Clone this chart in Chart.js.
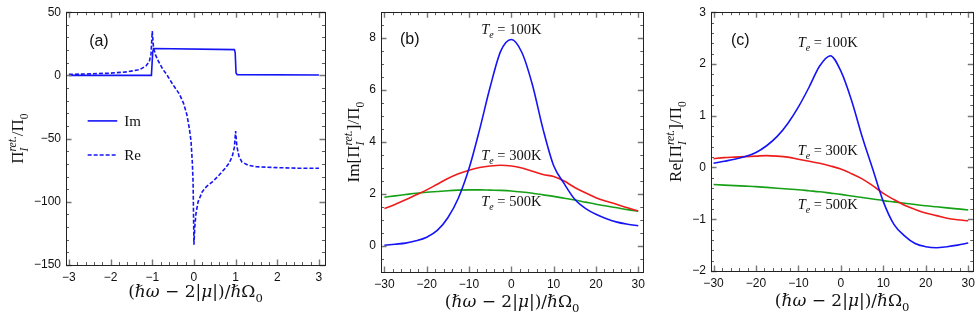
<!DOCTYPE html>
<html>
<head>
<meta charset="utf-8">
<script src="https://cdn.jsdelivr.net/npm/chart.js@4.4.1/dist/chart.umd.min.js"></script>
<style>
    html, body { margin: 0; padding: 0; background: #fff; }
    #wrap { position: relative; width: 980px; height: 317px; overflow: hidden; }
    canvas { position: absolute; top: 0; }
</style>
</head>
<body>
<div id="wrap">
    <canvas id="panelA" width="330" height="317" style="left:0px"></canvas>
    <canvas id="panelB" width="320" height="317" style="left:330px"></canvas>
    <canvas id="panelC" width="325" height="317" style="left:655px"></canvas>
</div>
<script>
// ---- panel (a): Im / Re of the polarization at T = 0
const imX_a = [-3, -1.02, -0.99, -0.97, 0.97, 0.99, 1.01, 1.04, 3];
const imY_a = [0, 0, 18, 21.3, 20.4, 18, 2, 0.6, 0.3];

const reX_a = [-3, -2.5, -2, -1.6, -1.3, -1.15, -1.07, -1.03, -1.0, -0.97, -0.92, -0.85, -0.75, -0.65,
    -0.5, -0.35, -0.25, -0.17, -0.11, -0.07, -0.04, -0.02, 0, 0.02, 0.05, 0.1, 0.2, 0.3, 0.45, 0.6,
    0.75, 0.85, 0.92, 0.97, 1.0, 1.03, 1.08, 1.15, 1.3, 1.5, 2, 2.5, 3];
const reY_a = [0.8, 1.2, 1.8, 2.8, 4.6, 7.5, 11, 17, 35, 22, 16, 11, 5, 0.5,
    -7.5, -14.7, -22, -31, -42, -52, -68, -85, -134, -120, -109, -100, -92, -88, -84, -79,
    -73.5, -69, -64, -57, -44, -56, -64, -68.5, -71, -72.3, -73, -73.4, -73.5];

const xTicksA = [-3, -2, -1, 0, 1, 2, 3];
const yTicksA = [-150, -100, -50, 0, 50];

// ---- panels (b) and (c): finite temperature, three electron temperatures
const xT = [-30, -27.5, -25, -22.5, -20, -17.5, -15, -12.5, -10, -7.5, -5, -2.5, 0,
    2.5, 5, 7.5, 10, 12.5, 15, 17.5, 20, 22.5, 25, 27.5, 30];

const im100 = [0.03, 0.07, 0.11, 0.2, 0.34, 0.6, 1.09, 1.85, 2.98, 4.48, 6.12, 7.5, 7.95,
    7.45, 6.2, 4.5, 3.1, 2.4, 1.8, 1.45, 1.22, 1.05, 0.92, 0.84, 0.78];
const im300 = [1.44, 1.6, 1.78, 1.97, 2.16, 2.38, 2.6, 2.78, 2.92, 3.02, 3.08, 3.11, 3.08,
    3.0, 2.88, 2.75, 2.68, 2.5, 2.25, 2.05, 1.86, 1.72, 1.6, 1.47, 1.35];
const im500 = [1.88, 1.93, 1.98, 2.03, 2.07, 2.1, 2.13, 2.15, 2.16, 2.16, 2.15, 2.14, 2.12,
    2.08, 2.03, 1.97, 1.91, 1.84, 1.77, 1.69, 1.61, 1.54, 1.47, 1.4, 1.34];

const re100 = [0.08, 0.12, 0.16, 0.21, 0.29, 0.42, 0.6, 0.85, 1.17, 1.55, 1.96, 2.16, 1.86,
    1.3, 0.6, -0.03, -0.66, -1.1, -1.32, -1.47, -1.53, -1.55, -1.53, -1.5, -1.46];
const re300 = [0.17, 0.19, 0.2, 0.21, 0.22, 0.23, 0.22, 0.2, 0.16, 0.12, 0.08, 0.03, -0.03,
    -0.12, -0.22, -0.35, -0.5, -0.62, -0.73, -0.81, -0.88, -0.93, -0.98, -1.01, -1.03];
const re500 = [-0.33, -0.34, -0.35, -0.36, -0.37, -0.385, -0.4, -0.415, -0.43, -0.45, -0.47, -0.495, -0.52,
    -0.55, -0.58, -0.61, -0.64, -0.665, -0.69, -0.715, -0.74, -0.76, -0.78, -0.8, -0.82];

const xTicksT = [-30, -20, -10, 0, 10, 20, 30];
const yTicksB = [0, 2, 4, 6, 8];
const yTicksC = [-2, -1, 0, 1, 2, 3];

const BLUE = '#1414f5';
const RED = '#ef1c1c';
const GREEN = '#16a016';
const SERIF = '"Liberation Serif", "DejaVu Serif", serif';
const WIDE_SERIF = '"DejaVu Serif", "Liberation Serif", serif';
const SANS = '"Liberation Sans", Arial, sans-serif';

const pts = (xs, ys) => xs.map((x, i) => ({ x: x, y: ys[i] }));

// text made of runs: [text, flags]  i = italic, b = subscript, p = superscript, s = stacked with next
function drawRich(ctx, runs, cx, cy, size, align, fam) {
    fam = fam || SERIF;
    const fontOf = f => (f.includes('i') ? 'italic ' : '') +
        ((f.includes('b') || f.includes('p')) ? size * 0.68 : size).toFixed(1) + 'px ' + fam;
    let total = 0, held = 0;
    const items = runs.map(([t, f]) => {
        ctx.font = fontOf(f);
        const w = ctx.measureText(t).width;
        const item = { t: t, f: f, x: total };
        if (f.includes('s')) {
            held = w;
        } else {
            total += Math.max(w, held);
            held = 0;
        }
        return item;
    });
    const x0 = align === 'left' ? cx : cx - total / 2;
    ctx.textAlign = 'left';
    ctx.textBaseline = 'alphabetic';
    items.forEach(it => {
        ctx.font = fontOf(it.f);
        let dy = size * 0.34;
        if (it.f.includes('b')) dy += size * 0.28;
        if (it.f.includes('p')) dy -= size * 0.42;
        ctx.fillText(it.t, x0 + it.x, cy + dy);
    });
}

const decor = {
    id: 'decor',
    afterDatasetsDraw(chart, args, o) {
        const { ctx, chartArea: a, scales: { x, y } } = chart;
        ctx.save();
        // inward tick marks on all four sides
        const minors = (s, step) => {
            const out = [];
            for (let v = Math.ceil(s.min / step) * step; v <= s.max + 1e-9; v += step) out.push(v);
            return out;
        };
        const mark = (v, len, axis) => {
            if (axis === 'x') {
                const p = Math.round(x.getPixelForValue(v)) + 0.5;
                ctx.moveTo(p, a.bottom); ctx.lineTo(p, a.bottom - len);
                ctx.moveTo(p, a.top); ctx.lineTo(p, a.top + len);
            } else {
                const p = Math.round(y.getPixelForValue(v)) + 0.5;
                ctx.moveTo(a.left, p); ctx.lineTo(a.left + len, p);
                ctx.moveTo(a.right, p); ctx.lineTo(a.right - len, p);
            }
        };
        ctx.beginPath();
        ctx.strokeStyle = '#333';
        ctx.lineWidth = 0.8;
        minors(x, o.xMinor).forEach(v => mark(v, 3, 'x'));
        minors(y, o.yMinor).forEach(v => mark(v, 3, 'y'));
        ctx.stroke();
        ctx.beginPath();
        ctx.strokeStyle = '#777';
        ctx.lineWidth = 1.4;
        x.ticks.forEach(t => mark(t.value, 5.5, 'x'));
        y.ticks.forEach(t => mark(t.value, 5.5, 'y'));
        ctx.stroke();
        // frame
        ctx.strokeStyle = '#222';
        ctx.lineWidth = 1;
        ctx.strokeRect(Math.round(a.left) + 0.5, Math.round(a.top) + 0.5,
            Math.round(a.right) - Math.round(a.left), Math.round(a.bottom) - Math.round(a.top));

        ctx.fillStyle = '#111';
        // legend keys
        (o.keys || []).forEach(k => {
            ctx.beginPath();
            ctx.strokeStyle = BLUE;
            ctx.lineWidth = 1.6;
            ctx.setLineDash(k.dash || []);
            const py = y.getPixelForValue(k.y);
            ctx.moveTo(x.getPixelForValue(k.x0), py);
            ctx.lineTo(x.getPixelForValue(k.x1), py);
            ctx.stroke();
            ctx.setLineDash([]);
            drawRich(ctx, k.runs, x.getPixelForValue(k.x1) + 7, py, 15, 'left');
        });
        // panel tag and notes
        ctx.font = '16px ' + SANS;
        ctx.textAlign = 'center';
        ctx.textBaseline = 'middle';
        ctx.fillText(o.tag[0], x.getPixelForValue(o.tag[1]), y.getPixelForValue(o.tag[2]));
        (o.notes || []).forEach(n => {
            drawRich(ctx, n.runs, x.getPixelForValue(n.x), y.getPixelForValue(n.y), 14.5, 'center');
        });
        ctx.restore();
    },
    afterDraw(chart, args, o) {
        const { ctx, chartArea: a } = chart;
        ctx.save();
        ctx.fillStyle = '#111';
        drawRich(ctx, o.xTitle, (a.left + a.right) / 2, a.bottom + o.xTitleDy, 17, 'center', WIDE_SERIF);
        ctx.translate(o.yTitleX, (a.top + a.bottom) / 2);
        ctx.rotate(-Math.PI / 2);
        drawRich(ctx, o.yTitle, 0, 0, 17, 'center');
        ctx.restore();
    }
};

const xTitleRuns = [['(', ''], ['\u210Fω', 'i'], [' \u2212 2|', ''], ['μ', 'i'], ['|)/', ''],
    ['\u210F', 'i'], ['Ω', ''], ['0', 'b']];
const piRuns = [['Π', ''], ['ret.', 'ips'], ['I', 'ib']];
const teRuns = k => [['T', 'i'], ['e', 'ib'], [' = ' + k + 'K', '']];

function line(data, color, extra) {
    return Object.assign({
        data: data,
        borderColor: color,
        backgroundColor: color,
        borderWidth: 1.6,
        pointRadius: 0,
        fill: false,
    }, extra || {});
}

function scaleX(min, max, tickVals, h) {
    return {
        type: 'linear', min: min, max: max,
        grid: { display: false, drawTicks: false },
        border: { display: false },
        afterBuildTicks: s => { s.ticks = tickVals.map(v => ({ value: v })); },
        afterFit: s => { s.height = h; },
        ticks: {
            padding: 5, color: '#111', maxRotation: 0, autoSkip: false,
            font: { family: SANS, size: 12 },
            callback: v => String(v).replace('-', '\u2212'),
        },
    };
}

function scaleY(min, max, tickVals, w) {
    return {
        type: 'linear', min: min, max: max,
        grid: { display: false, drawTicks: false },
        border: { display: false },
        afterBuildTicks: s => { s.ticks = tickVals.map(v => ({ value: v })); },
        afterFit: s => { s.width = w; },
        ticks: {
            padding: 5, color: '#111', autoSkip: false,
            font: { family: SANS, size: 12 },
            callback: v => String(v).replace('-', '\u2212'),
        },
    };
}

function baseOptions(pad, xs, ys, decorOpts) {
    return {
        responsive: false,
        animation: false,
        devicePixelRatio: 1,
        layout: { padding: pad },
        scales: { x: xs, y: ys },
        plugins: { legend: { display: false }, tooltip: { enabled: false }, decor: decorOpts },
    };
}

const configA = {
    type: 'line',
    data: {
        datasets: [
            line(pts(imX_a, imY_a), BLUE, { tension: 0 }),
            line(pts(reX_a, reY_a), BLUE, { tension: 0, borderDash: [4, 2] }),
        ]
    },
    options: baseOptions({ top: 9, right: 5, left: 0, bottom: 0 },
        scaleX(-3.07, 3.145, xTicksA, 52),
        scaleY(-150, 50, yTicksA, 66),
        {
            xMinor: 0.2, yMinor: 10,
            tag: ['(a)', -2.28, 27],
            keys: [
                { x0: -2.55, x1: -1.84, y: -36, runs: [['Im', '']] },
                { x0: -2.55, x1: -1.84, y: -63, dash: [4, 2], runs: [['Re', '']] },
            ],
            xTitle: xTitleRuns, xTitleDy: 26,
            yTitle: piRuns.concat([['/Π', ''], ['0', 'b']]), yTitleX: 17,
        }),
    plugins: [decor],
};

const configB = {
    type: 'line',
    data: {
        datasets: [
            line(pts(xT, im100), BLUE, { cubicInterpolationMode: 'monotone' }),
            line(pts(xT, im300), RED, { cubicInterpolationMode: 'monotone' }),
            line(pts(xT, im500), GREEN, { cubicInterpolationMode: 'monotone' }),
        ]
    },
    options: baseOptions({ top: 6, right: 5, left: 0, bottom: 0 },
        scaleX(-30.8, 31.2, xTicksT, 45),
        scaleY(-1, 9, yTicksB, 51),
        {
            xMinor: 2, yMinor: 0.5,
            tag: ['(b)', -24, 7.95],
            notes: [
                { x: 0, y: 8.35, runs: teRuns(100) },
                { x: 0, y: 3.5, runs: teRuns(300) },
                { x: 0, y: 1.72, runs: teRuns(500) },
            ],
            xTitle: xTitleRuns, xTitleDy: 29,
            yTitle: [['Im[', '']].concat(piRuns, [[']/Π', ''], ['0', 'b']]), yTitleX: 23,
        }),
    plugins: [decor],
};

const configC = {
    type: 'line',
    data: {
        datasets: [
            line(pts(xT, re100), BLUE, { cubicInterpolationMode: 'monotone' }),
            line(pts(xT, re300), RED, { cubicInterpolationMode: 'monotone' }),
            line(pts(xT, re500), GREEN, { cubicInterpolationMode: 'monotone' }),
        ]
    },
    options: baseOptions({ top: 7, right: 6, left: 0, bottom: 0 },
        scaleX(-30.6, 31.2, xTicksT, 46),
        scaleY(-2, 3, yTicksC, 56),
        {
            xMinor: 2, yMinor: 0.2,
            tag: ['(c)', -23.7, 2.46],
            notes: [
                { x: -3.1, y: 2.42, runs: teRuns(100) },
                { x: -3.1, y: 0.34, runs: teRuns(300) },
                { x: -3.1, y: -0.7, runs: teRuns(500) },
            ],
            xTitle: xTitleRuns, xTitleDy: 29,
            yTitle: [['Re[', '']].concat(piRuns, [[']/Π', ''], ['0', 'b']]), yTitleX: 20,
        }),
    plugins: [decor],
};

const panelA = new Chart(document.getElementById('panelA'), configA);
const panelB = new Chart(document.getElementById('panelB'), configB);
const panelC = new Chart(document.getElementById('panelC'), configC);
</script>
</body>
</html>
